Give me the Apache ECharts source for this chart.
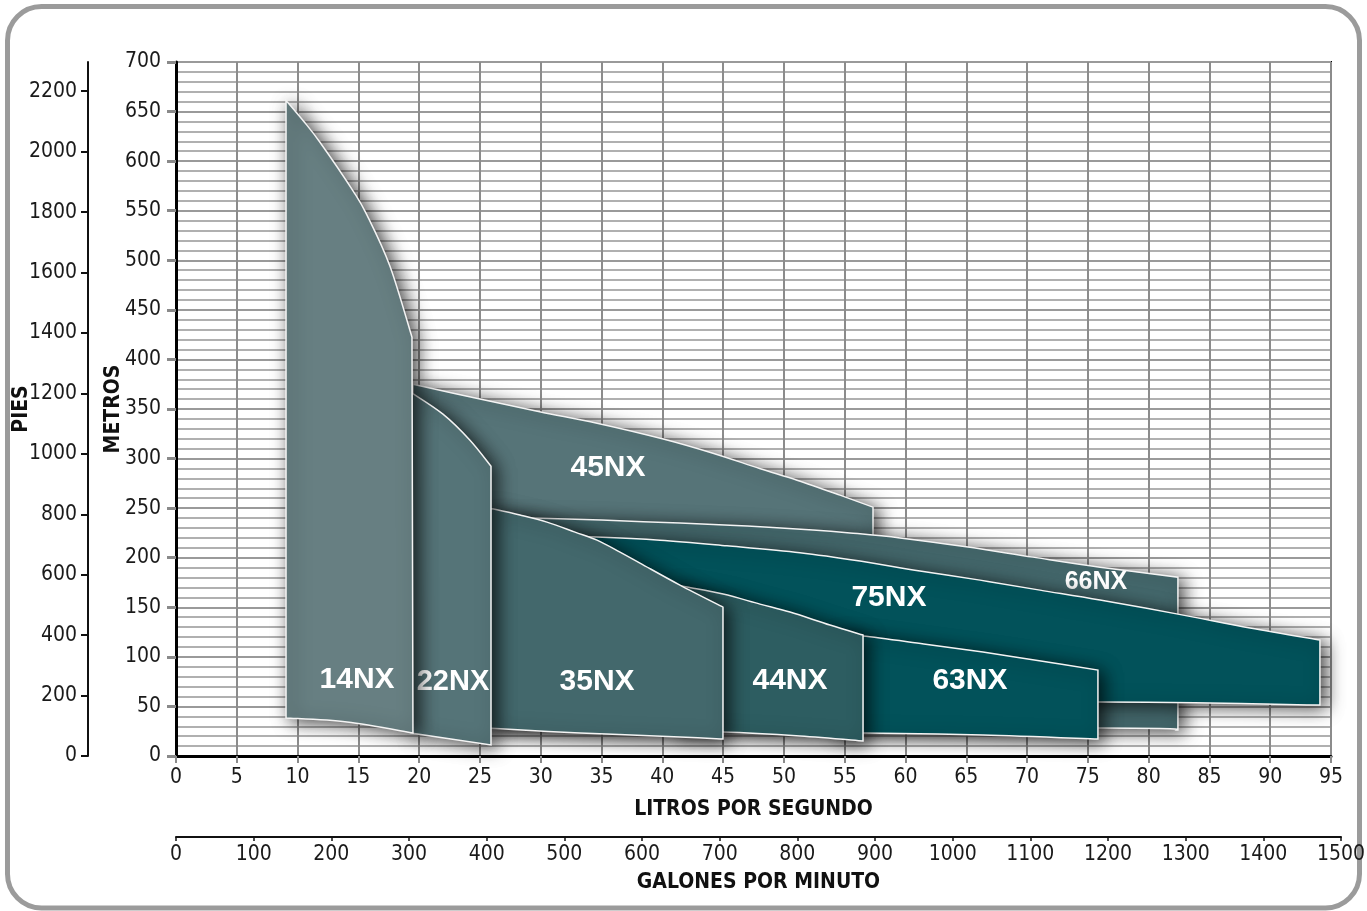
<!DOCTYPE html>
<html>
<head>
<meta charset="utf-8">
<script src="https://cdn.jsdelivr.net/npm/echarts@6/dist/echarts.min.js"></script>
<style>
html,body{margin:0;padding:0;background:#fff;}
#chart{width:1367px;height:911px;}
</style>
</head>
<body>
<div id="chart"></div>
<script>
// ---- Data (flow in L/s, head in metres) ----
const LPS_TICKS = [0,5,10,15,20,25,30,35,40,45,50,55,60,65,70,75,80,85,90,95];
const METROS_TICKS = [0,50,100,150,200,250,300,350,400,450,500,550,600,650,700];
const PIES_TICKS = [0,200,400,600,800,1000,1200,1400,1600,1800,2000,2200];
const GPM_TICKS = [0,100,200,300,400,500,600,700,800,900,1000,1100,1200,1300,1400,1500];

const M_TO_FT = 3.28084;

// drawing order: back to front
const NAMES = ['45NX','66NX','75NX','63NX','44NX','35NX','22NX','14NX'];
const COLORS = ['#567478','#45696d','#02525a','#02525a','#2d5d61','#43686c','#557478','#677f82'];

// upper boundary (max head) of each model, left to right
const TOP_45NX = [[19.49,375],[25.0,360],[30.0,347],[34.63,335.7],[40.0,320],[44.17,305.4],[48.0,290],[51.08,278.2],[54.61,263.1],[57.33,251]];
const TOP_66NX = [[25.6,241],[29.94,239.9],[35.0,238],[41.45,234.9],[47.0,232],[52.39,228],[55.44,225],[59.55,220],[65.0,211],[70.49,200.6],[76.0,190.5],[82.41,180.4]];
const TOP_75NX = [[30.0,222],[34.55,220.8],[39.81,217.7],[45.32,212],[51.32,205],[56.26,196.6],[61.19,186.5],[66.13,177.4],[71.06,167.3],[76.0,157.3],[82.41,143.1],[88.34,129],[94.09,116.9]];
const TOP_63NX = [[54.0,122.5],[56.5,121],[61.5,113],[66.37,104.8],[71.0,96],[75.83,86.7]];
const TOP_44NX = [[41.0,173],[42.03,170.4],[45.0,163.3],[48.03,153.2],[50.5,145.2],[53.79,132.1],[56.51,122]];
const TOP_35NX = [[25.6,250.5],[28.29,243],[30.51,235.9],[32.82,225.8],[34.63,217.7],[36.52,205.6],[38.16,194.6],[41.45,172.4],[44.99,150.2]];
const TOP_22NX = [[19.3,366.9],[21.96,344.8],[24.18,318.5],[25.91,292.3]];
const TOP_14NX = [[9.05,661.3],[10.45,641],[11.84,619],[14.56,570],[15.69,546],[17.6,494],[19.41,422.4]];

// lower boundary (min head) of each model, left to right
const BOT_45NX = [[19.49,200],[57.33,200]];
const BOT_66NX = [[25.6,28.2],[75.83,28.2],[82.41,26.2]];
const BOT_75NX = [[30.0,56],[76.0,54.4],[94.09,51.4]];
const BOT_63NX = [[54.0,23.2],[56.5,23.2],[66.37,21.2],[75.83,17.1]];
const BOT_44NX = [[41.0,24.2],[45.0,24.2],[51.32,20.2],[56.51,15.1]];
const BOT_35NX = [[25.6,28.2],[33.23,23.2],[41.45,19.2],[44.99,17.1]];
const BOT_22NX = [[19.3,23.2],[25.91,11.1]];
const BOT_14NX = [[9.05,38.3],[14.06,34.3],[19.49,23.2]];

const TOPS = [TOP_45NX,TOP_66NX,TOP_75NX,TOP_63NX,TOP_44NX,TOP_35NX,TOP_22NX,TOP_14NX];
const BOTS = [BOT_45NX,BOT_66NX,BOT_75NX,BOT_63NX,BOT_44NX,BOT_35NX,BOT_22NX,BOT_14NX];

// label anchor (L/s, m)
const LABEL_AT = [[35.53,290.3],[75.67,175.4],[58.64,159.3],[65.3,75.6],[50.5,75.6],[34.63,74.6],[22.78,74.6],[14.89,76.6]];
const LABEL_SIZE = [30,25,30,30,30,30,29,30];

const NARROW = '"DejaVu Sans Condensed","Liberation Sans Narrow","Liberation Sans",sans-serif';
const BOLDF = '"Liberation Sans",Arial,sans-serif';

// smooth path through pixel points (Catmull-Rom -> cubic Bezier), appended to path string
function smoothSeg(p, first) {
  let d = first ? ('M' + p[0][0] + ' ' + p[0][1]) : ('L' + p[0][0] + ' ' + p[0][1]);
  for (let i = 0; i < p.length - 1; i++) {
    const p0 = p[i - 1] || p[i], p1 = p[i], p2 = p[i + 1], p3 = p[i + 2] || p[i + 1];
    const c1 = [p1[0] + (p2[0] - p0[0]) / 6, p1[1] + (p2[1] - p0[1]) / 6];
    const c2 = [p2[0] - (p3[0] - p1[0]) / 6, p2[1] - (p3[1] - p1[1]) / 6];
    d += 'C' + c1[0] + ' ' + c1[1] + ' ' + c2[0] + ' ' + c2[1] + ' ' + p2[0] + ' ' + p2[1];
  }
  return d;
}

function makeShape(i) {
  const top = TOPS[i], bot = BOTS[i];
  return {
    type: 'custom',
    name: NAMES[i],
    coordinateSystem: 'cartesian2d',
    xAxisIndex: 0, yAxisIndex: 0,
    silent: true,
    clip: false,
    data: top.concat(bot),
    encode: {x: 0, y: 1},
    renderItem: function (params, api) {
      if (params.dataIndex !== 0) return null;
      const tp = top.map(p => api.coord(p));
      const bp = bot.map(p => api.coord(p)).reverse();
      const d = smoothSeg(tp, true) + smoothSeg(bp, false) + 'Z';
      const lp = api.coord(LABEL_AT[i]);
      return {
        type: 'group',
        children: [
          {type: 'path', shape: {pathData: d},
           style: {fill: COLORS[i], stroke: '#f4f4f4', lineWidth: 1.5, lineJoin: 'miter',
                   shadowBlur: 18, shadowColor: 'rgba(0,0,0,0.75)', shadowOffsetX: 5, shadowOffsetY: 3}},
          {type: 'text', x: lp[0], y: lp[1],
           style: {text: NAMES[i], fill: '#ffffff', fontSize: LABEL_SIZE[i], fontWeight: 'bold',
                   fontFamily: BOLDF, align: 'center', verticalAlign: 'middle'}}
        ]
      };
    }
  };
}

const plain = v => String(v);
const nameStyle = {fontFamily: NARROW, fontSize: 21, fontWeight: 'bold', color: '#111'};
const tickLabel = {fontFamily: NARROW, fontSize: 21, color: '#1a1a1a'};

const chart = echarts.init(document.getElementById('chart'), null, {renderer: 'canvas'});

const option = {
  backgroundColor: '#ffffff',
  animation: false,
  graphic: [{
    type: 'rect', z: -10,
    shape: {x: 7.5, y: 6.5, width: 1352, height: 901.5, r: 34},
    style: {fill: 'none', stroke: '#9b9b9b', lineWidth: 5}
  }],
  grid: [
    {left: 176, right: 36, top: 62, bottom: 155, show: true, borderColor: '#000', borderWidth: 2,
     backgroundColor: '#fff', containLabel: false, outerBoundsMode: 'none'},
    {left: 176, right: 26, top: 836, height: 1, containLabel: false, outerBoundsMode: 'none'}
  ],
  xAxis: [
    {
      type: 'value', gridIndex: 0, min: 0, max: 95, interval: 5, position: 'bottom',
      name: 'LITROS POR SEGUNDO', nameLocation: 'middle', nameGap: 43, nameMoveOverlap: false,
      nameTextStyle: nameStyle,
      axisLine: {show: true, onZero: false, lineStyle: {color: '#000', width: 3}},
      axisTick: {show: true, length: 7, lineStyle: {color: '#8a8a8a', width: 2}},
      axisLabel: Object.assign({margin: 11, formatter: plain, customValues: LPS_TICKS}, tickLabel),
      splitLine: {show: true, lineStyle: {color: '#8c8c8c', width: 2}}
    },
    {
      type: 'value', gridIndex: 1, min: 0, max: 1500, position: 'bottom',
      name: 'GALONES POR MINUTO', nameLocation: 'middle', nameGap: 35, nameMoveOverlap: false,
      nameTextStyle: nameStyle,
      axisLine: {show: true, onZero: false, lineStyle: {color: '#111', width: 2}},
      axisTick: {show: true, length: 4, customValues: GPM_TICKS, lineStyle: {color: '#111', width: 1.5}},
      axisLabel: Object.assign({margin: 7, formatter: plain, customValues: GPM_TICKS}, tickLabel),
      splitLine: {show: false}
    }
  ],
  yAxis: [
    {
      type: 'value', gridIndex: 0, min: 0, max: 700, interval: 50, position: 'left',
      name: 'METROS', nameLocation: 'middle', nameGap: 52, nameRotate: 90, nameMoveOverlap: false,
      nameTextStyle: nameStyle,
      axisLine: {show: true, onZero: false, lineStyle: {color: '#000', width: 3}},
      axisTick: {show: true, length: 9, lineStyle: {color: '#8a8a8a', width: 3}},
      axisLabel: Object.assign({margin: 15, formatter: plain, customValues: METROS_TICKS}, tickLabel),
      minorTick: {show: false, splitNumber: 5},
      splitLine: {show: true, lineStyle: {color: '#9a9a9a', width: 2}},
      minorSplitLine: {show: true, lineStyle: {color: '#b0b0b0', width: 2}}
    },
    {
      type: 'value', gridIndex: 0, min: 0, max: 700 * M_TO_FT, position: 'left', offset: 88,
      name: 'PIES', nameLocation: 'middle', nameGap: 56, nameRotate: 90, nameMoveOverlap: false,
      nameTextStyle: nameStyle,
      axisLine: {show: true, onZero: false, lineStyle: {color: '#111', width: 2}},
      axisTick: {show: true, length: 7, customValues: PIES_TICKS, lineStyle: {color: '#111', width: 2}},
      axisLabel: Object.assign({margin: 11, formatter: plain, customValues: PIES_TICKS}, tickLabel),
      splitLine: {show: false}
    },
    {type: 'value', gridIndex: 1, min: 0, max: 1, show: false}
  ],
  series: NAMES.map((n, i) => makeShape(i))
};

chart.setOption(option);
</script>
</body>
</html>
